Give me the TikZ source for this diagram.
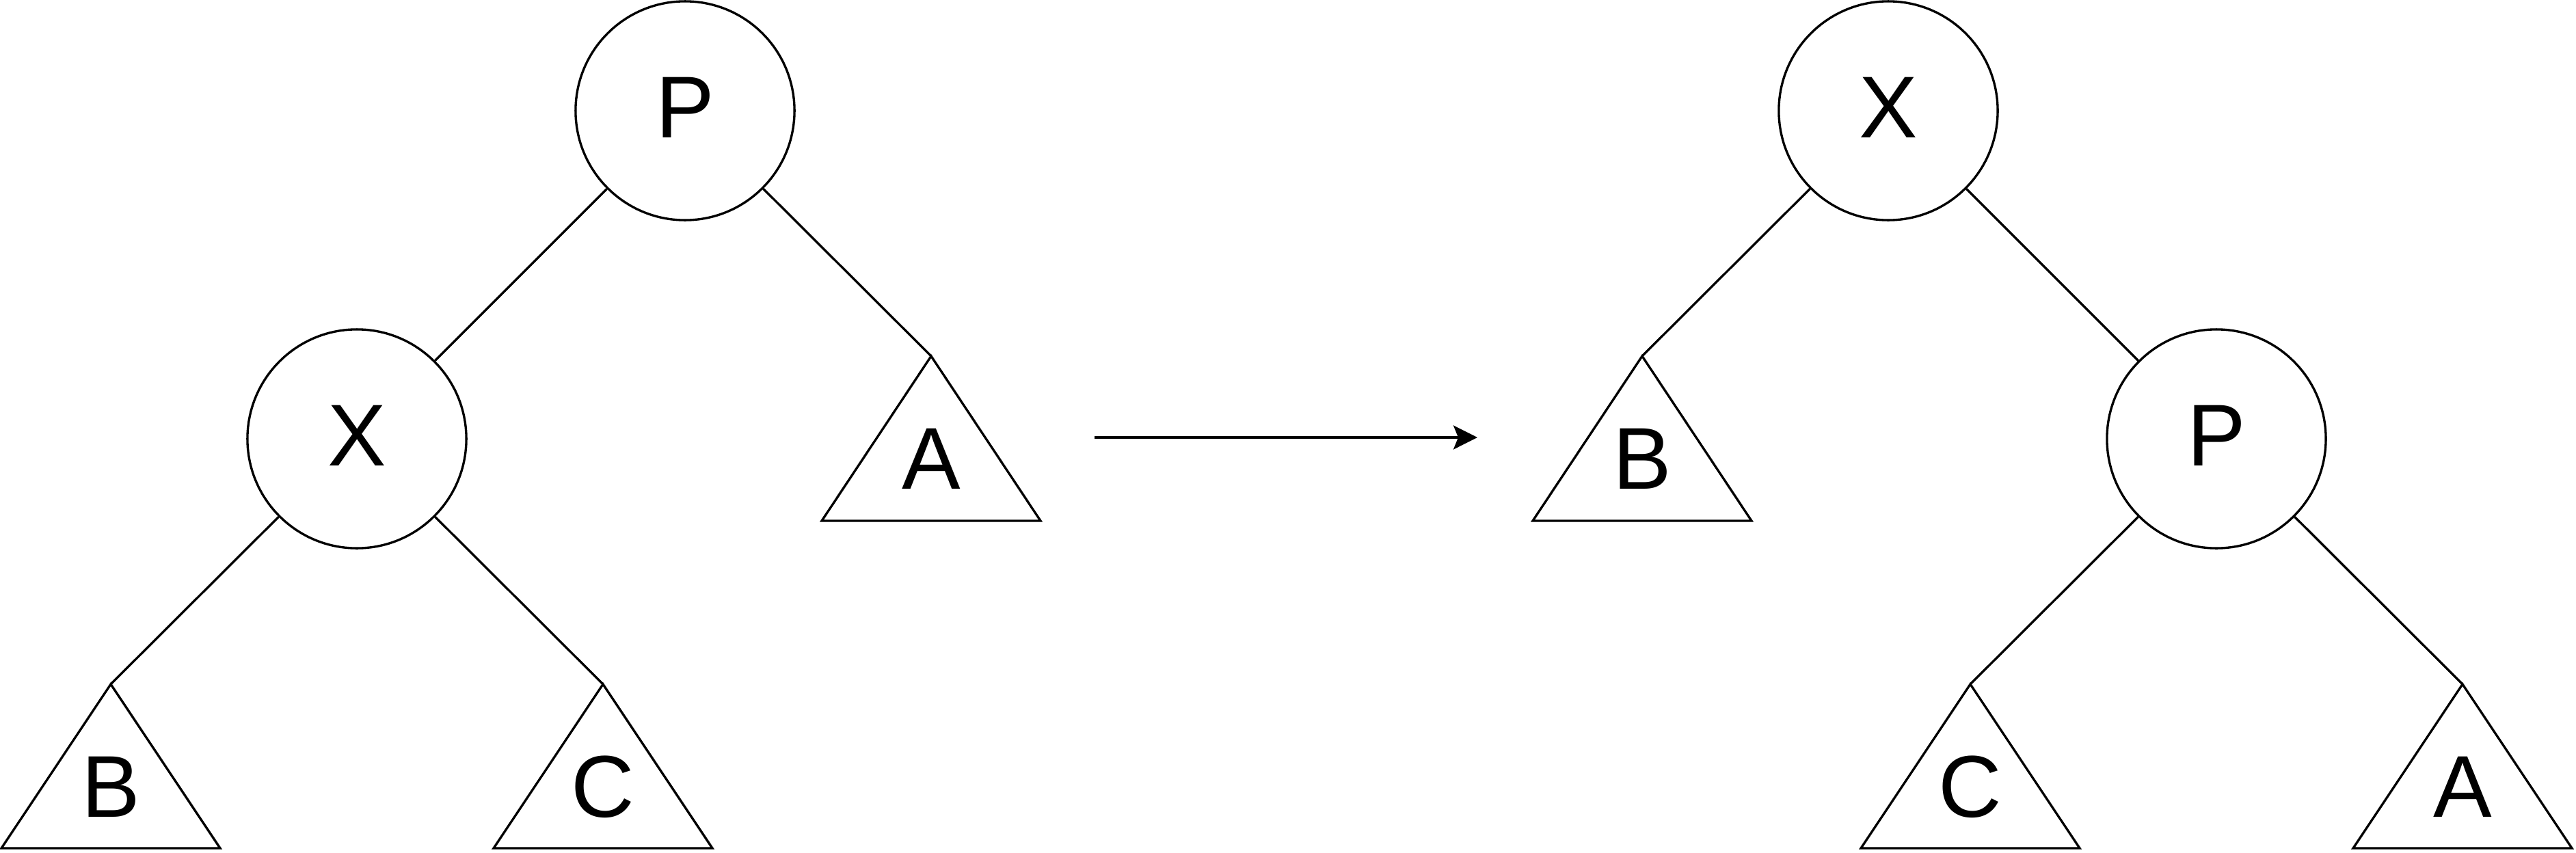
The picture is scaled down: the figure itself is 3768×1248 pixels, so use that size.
\documentclass[tikz,border=0pt]{standalone}
\usepackage{fontspec}
\setmainfont{Liberation Sans}
\usetikzlibrary{arrows.meta}
\begin{document}
\begin{tikzpicture}[x=0.01cm,y=-0.01cm,
  every node/.style={font=\fontsize{36.5}{40}\selectfont},
  treenode/.style={circle,draw,line width=0.95pt,minimum size=3.2cm,inner sep=0pt,text depth=0.09cm},
  edge/.style={line width=0.95pt},
  subtree/.style={line width=0.95pt,line join=miter},
  lbl/.style={inner sep=0pt}
]
\useasboundingbox (0,0) rectangle (3768,1248);

% ---------- left tree ----------
\node[treenode] (P1) at (1002,162) {P};
\node[treenode] (X1) at (522,642) {X};
\coordinate (A1) at (1362,521);
\coordinate (B1) at (162,1001);
\coordinate (C1) at (882,1001);
\draw[subtree] (A1) -- ++(-160,241) -- ++(320,0) -- cycle;
\draw[subtree] (B1) -- ++(-160,240) -- ++(320,0) -- cycle;
\draw[subtree] (C1) -- ++(-160,240) -- ++(320,0) -- cycle;
\node[lbl] (A1t) at (1362,671) {A};
\node[lbl] (B1t) at (162,1151) {B};
\node[lbl] (C1t) at (882,1151) {C};
\draw[edge] (P1) -- (X1);
\draw[edge] (P1) -- (A1);
\draw[edge] (X1) -- (B1);
\draw[edge] (X1) -- (C1);

% ---------- arrow ----------
\coordinate (s) at (1601,640);
\coordinate (e) at (2161,640);
\draw[edge,-{Stealth[length=0.35cm,width=0.35cm,inset=0.07cm]}] (s) -- (e);

% ---------- right tree ----------
\node[treenode] (X2) at (2762,162) {X};
\node[treenode] (P2) at (3242,642) {P};
\coordinate (B2) at (2402,521);
\coordinate (C2) at (2882,1001);
\coordinate (A2) at (3602,1001);
\draw[subtree] (B2) -- ++(-160,241) -- ++(320,0) -- cycle;
\draw[subtree] (C2) -- ++(-160,240) -- ++(320,0) -- cycle;
\draw[subtree] (A2) -- ++(-160,240) -- ++(320,0) -- cycle;
\node[lbl] (B2t) at (2402,671) {B};
\node[lbl] (C2t) at (2882,1151) {C};
\node[lbl] (A2t) at (3602,1151) {A};
\draw[edge] (X2) -- (B2);
\draw[edge] (X2) -- (P2);
\draw[edge] (P2) -- (C2);
\draw[edge] (P2) -- (A2);
\end{tikzpicture}
\end{document}
